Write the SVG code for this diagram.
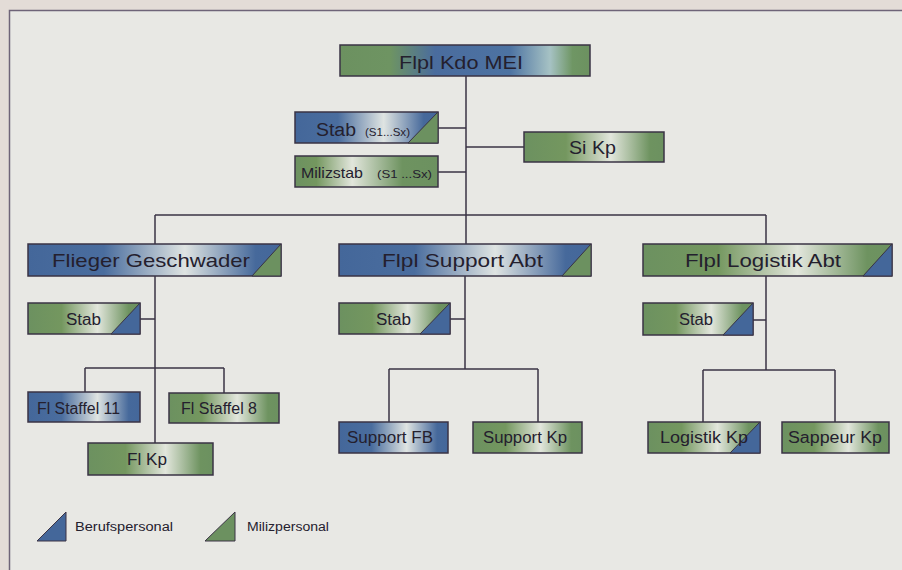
<svg xmlns="http://www.w3.org/2000/svg" width="902" height="570" viewBox="0 0 902 570">
<defs>
<linearGradient id="gBlue" x1="0" y1="0" x2="1" y2="0">
<stop offset="0" stop-color="#44679a"/><stop offset="0.3" stop-color="#4a6d9e"/><stop offset="0.62" stop-color="#dfe4e2"/><stop offset="0.9" stop-color="#46699b"/><stop offset="1" stop-color="#44679a"/>
</linearGradient>
<linearGradient id="gGreen" x1="0" y1="0" x2="1" y2="0">
<stop offset="0" stop-color="#6c9160"/><stop offset="0.3" stop-color="#74975f"/><stop offset="0.62" stop-color="#e2e6dc"/><stop offset="0.9" stop-color="#6e9360"/><stop offset="1" stop-color="#6c9160"/>
</linearGradient>
<linearGradient id="gTop" x1="0" y1="0" x2="1" y2="0">
<stop offset="0" stop-color="#6c9160"/><stop offset="0.2" stop-color="#6e9462"/><stop offset="0.38" stop-color="#4a6c9e"/><stop offset="0.68" stop-color="#4d73a2"/><stop offset="0.84" stop-color="#a6c2c4"/><stop offset="0.93" stop-color="#6f9664"/><stop offset="1" stop-color="#6c9160"/>
</linearGradient>
<linearGradient id="gMiliz" x1="0" y1="0" x2="1" y2="0">
<stop offset="0" stop-color="#6c9160"/><stop offset="0.15" stop-color="#74975f"/><stop offset="0.4" stop-color="#e2e6dc"/><stop offset="0.75" stop-color="#6e9360"/><stop offset="1" stop-color="#6c9160"/>
</linearGradient>
</defs>
<style>
.box{stroke:#3a3344;stroke-width:1.5}
.b{fill:url(#gBlue)}
.g{fill:url(#gGreen)}
.tb{fill:#44679a;stroke:#3a3344;stroke-width:1}
.tg{fill:#6c9160;stroke:#3a3344;stroke-width:1}
.t{font-family:"Liberation Sans",Arial,sans-serif;fill:#24202e}
.big{font-size:19px}
.med{font-size:16px}
.sm{font-size:11px}
.conn line{stroke:#3a3344;stroke-width:1.5;fill:none}
</style>
<rect x="0" y="0" width="902" height="570" fill="#e3dcd7"/>
<rect x="9" y="10" width="900" height="570" fill="#e8e8e4"/>
<path d="M9.5 570 V10.5 H902" fill="none" stroke="#6e6478" stroke-width="1.5"/>

<g id="connectors" class="conn">
<line x1="466" y1="76" x2="466" y2="215"/>
<line x1="438" y1="128" x2="466" y2="128"/>
<line x1="438" y1="172" x2="466" y2="172"/>
<line x1="466" y1="147" x2="524" y2="147"/>
<line x1="155" y1="215" x2="766" y2="215"/>
<line x1="155" y1="215" x2="155" y2="244"/>
<line x1="466" y1="215" x2="466" y2="244"/>
<line x1="766" y1="215" x2="766" y2="244"/>
<line x1="155" y1="276" x2="155" y2="443"/>
<line x1="140" y1="319" x2="155" y2="319"/>
<line x1="85" y1="368" x2="224" y2="368"/>
<line x1="85" y1="368" x2="85" y2="392"/>
<line x1="224" y1="368" x2="224" y2="393"/>
<line x1="465" y1="276" x2="465" y2="369"/>
<line x1="450" y1="319" x2="465" y2="319"/>
<line x1="389" y1="369" x2="538" y2="369"/>
<line x1="389" y1="369" x2="389" y2="422"/>
<line x1="538" y1="369" x2="538" y2="422"/>
<line x1="766" y1="276" x2="766" y2="370"/>
<line x1="753" y1="320" x2="766" y2="320"/>
<line x1="703" y1="370" x2="835" y2="370"/>
<line x1="703" y1="370" x2="703" y2="422"/>
<line x1="835" y1="370" x2="835" y2="422"/>
</g>

<g id="kdo">
<rect class="box" x="340" y="45" width="250" height="31" fill="url(#gTop)"/>
<text class="t big" x="399" y="69" textLength="124" lengthAdjust="spacingAndGlyphs">Flpl Kdo MEI</text>
</g>
<g id="stab-top">
<rect class="box b" x="295" y="112" width="143" height="31"/>
<polygon class="tg" points="408,143 438,112 438,143"/>
<text class="t" font-size="18" x="316" y="136" textLength="40" lengthAdjust="spacingAndGlyphs">Stab</text>
<text class="t sm" x="365" y="136" textLength="45" lengthAdjust="spacingAndGlyphs">(S1...Sx)</text>
</g>
<g id="milizstab">
<rect class="box" x="295" y="156" width="143" height="31" fill="url(#gMiliz)"/>
<text class="t" font-size="15" x="301" y="178" textLength="62" lengthAdjust="spacingAndGlyphs">Milizstab</text>
<text class="t sm" x="377" y="178" textLength="55" lengthAdjust="spacingAndGlyphs">(S1 ...Sx)</text>
</g>
<g id="sikp">
<rect class="box g" x="524" y="132" width="140" height="30"/>
<text class="t" font-size="18" x="569" y="154" textLength="47" lengthAdjust="spacingAndGlyphs">Si Kp</text>
</g>

<g id="flieger">
<rect class="box b" x="28" y="244" width="253" height="32"/>
<polygon class="tg" points="252,276 281,244 281,276"/>
<text class="t big" x="52" y="267" textLength="198" lengthAdjust="spacingAndGlyphs">Flieger Geschwader</text>
</g>
<g id="stab-fl">
<rect class="box g" x="28" y="303" width="112" height="31"/>
<polygon class="tb" points="111,334 140,303 140,334"/>
<text class="t med" x="66" y="325" textLength="35" lengthAdjust="spacingAndGlyphs">Stab</text>
</g>
<g id="staffel11">
<rect class="box b" x="28" y="392" width="112" height="30"/>
<text class="t med" x="37" y="414" textLength="83" lengthAdjust="spacingAndGlyphs">Fl Staffel 11</text>
</g>
<g id="staffel8">
<rect class="box g" x="169" y="393" width="110" height="30"/>
<text class="t med" x="181" y="414" textLength="76" lengthAdjust="spacingAndGlyphs">Fl Staffel 8</text>
</g>
<g id="flkp">
<rect class="box g" x="88" y="443" width="125" height="32"/>
<text class="t" font-size="17" x="127" y="465" textLength="40" lengthAdjust="spacingAndGlyphs">Fl Kp</text>
</g>

<g id="support">
<rect class="box b" x="339" y="244" width="252" height="32"/>
<polygon class="tg" points="562,276 591,244 591,276"/>
<text class="t big" x="382" y="267" textLength="161" lengthAdjust="spacingAndGlyphs">Flpl  Support Abt</text>
</g>
<g id="stab-su">
<rect class="box g" x="339" y="303" width="111" height="31"/>
<polygon class="tb" points="420,334 450,303 450,334"/>
<text class="t med" x="376" y="325" textLength="35" lengthAdjust="spacingAndGlyphs">Stab</text>
</g>
<g id="supportfb">
<rect class="box b" x="339" y="422" width="109" height="31"/>
<text class="t med" x="347" y="443" textLength="86" lengthAdjust="spacingAndGlyphs">Support FB</text>
</g>
<g id="supportkp">
<rect class="box g" x="473" y="422" width="109" height="31"/>
<text class="t med" x="483" y="443" textLength="84" lengthAdjust="spacingAndGlyphs">Support Kp</text>
</g>

<g id="logistik">
<rect class="box g" x="643" y="244" width="249" height="32"/>
<polygon class="tb" points="863,276 892,244 892,276"/>
<text class="t big" x="685" y="267" textLength="156" lengthAdjust="spacingAndGlyphs">Flpl  Logistik Abt</text>
</g>
<g id="stab-lo">
<rect class="box g" x="643" y="303" width="110" height="32"/>
<polygon class="tb" points="723,335 753,303 753,335"/>
<text class="t med" x="679" y="325" textLength="34" lengthAdjust="spacingAndGlyphs">Stab</text>
</g>
<g id="logistikkp">
<rect class="box g" x="648" y="422" width="112" height="31"/>
<polygon class="tb" points="730,453 760,422 760,453"/>
<text class="t med" x="660" y="443" textLength="88" lengthAdjust="spacingAndGlyphs">Logistik  Kp</text>
</g>
<g id="sappeur">
<rect class="box g" x="782" y="422" width="107" height="31"/>
<text class="t med" x="788" y="443" textLength="94" lengthAdjust="spacingAndGlyphs">Sappeur  Kp</text>
</g>

<g id="legend">
<polygon class="tb" points="37,541 66,512 66,541"/>
<text class="t" font-size="12" x="75" y="531" textLength="98" lengthAdjust="spacingAndGlyphs">Berufspersonal</text>
<polygon class="tg" points="205,541 235,512 235,541"/>
<text class="t" font-size="12" x="247" y="531" textLength="82" lengthAdjust="spacingAndGlyphs">Milizpersonal</text>
</g>
</svg>
